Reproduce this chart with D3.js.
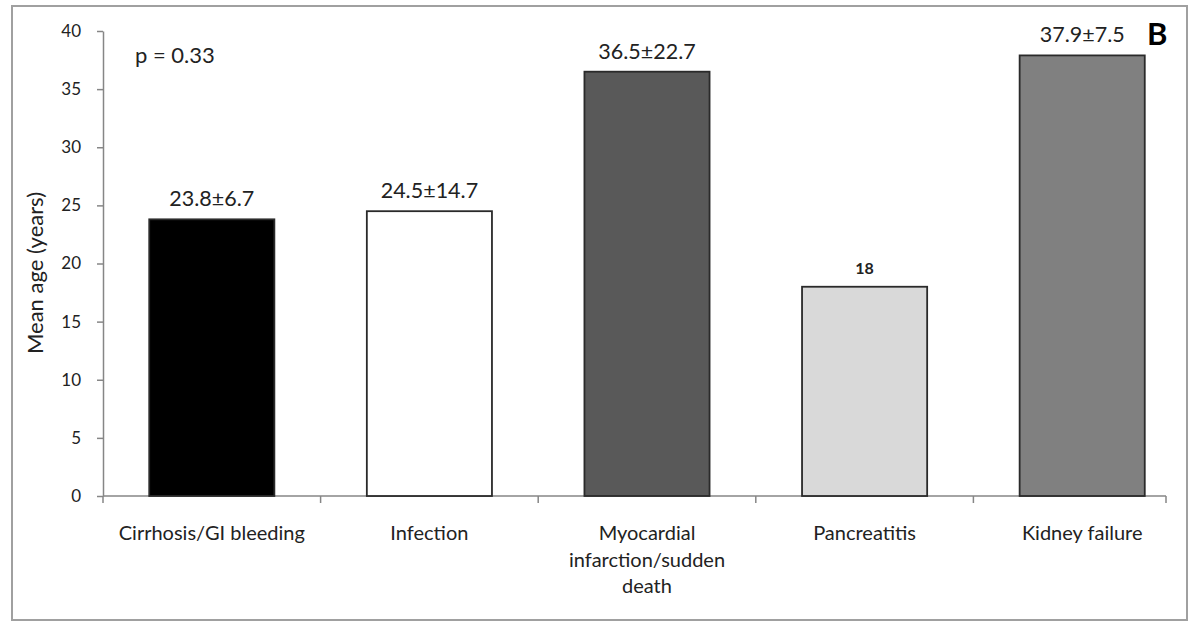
<!DOCTYPE html>
<html>
<head>
<meta charset="utf-8">
<script src="https://cdn.jsdelivr.net/npm/d3@7"></script>
<style>
  html, body { margin: 0; padding: 0; background: #fff; }
  svg { display: block; font-family: Lato, "Open Sans", sans-serif; }
</style>
</head>
<body>
<svg id="chart" width="1189" height="622"></svg>
<script>
// Causes of death and mean age at death
const categories = [
  ["Cirrhosis/GI bleeding"],
  ["Infection"],
  ["Myocardial", "infarction/sudden", "death"],
  ["Pancreatitis"],
  ["Kidney failure"]
];
const meanAge = [23.8, 24.5, 36.5, 18, 37.9];
const valueLabels = ["23.8±6.7", "24.5±14.7", "36.5±22.7", "18", "37.9±7.5"];
const barFills = ["#000000", "#ffffff", "#595959", "#d9d9d9", "#808080"];
const yTicks = [0, 5, 10, 15, 20, 25, 30, 35, 40];

const svg = d3.select("#chart");

// outer frame
svg.append("rect")
  .attr("x", 12).attr("y", 6).attr("width", 1175).attr("height", 614)
  .attr("fill", "none").attr("stroke", "#a0a0a0").attr("stroke-width", 2);

const plot = { left: 103, right: 1191, top: 31, bottom: 496 };

const x = d3.scaleBand()
  .domain(d3.range(categories.length))
  .range([plot.left, plot.right])
  .paddingInner(0.425)
  .paddingOuter(0.2125);

const y = d3.scaleLinear().domain([0, 40]).range([plot.bottom, plot.top]);

// y axis
const yAxis = svg.append("g")
  .attr("transform", `translate(${plot.left},0)`)
  .call(d3.axisLeft(y).tickValues(yTicks).tickSize(6).tickPadding(16).tickSizeOuter(0));
yAxis.select(".domain").attr("stroke", "#868686").attr("stroke-width", 1.5);
yAxis.selectAll(".tick line").attr("stroke", "#868686").attr("stroke-width", 1.5);
yAxis.selectAll(".tick text").attr("font-size", 17).attr("fill", "#222").attr("font-family", "Lato, sans-serif");

// x axis: baseline with ticks at category boundaries
const xEnd = 1166;
const step = x.step();
const boundaries = d3.range(categories.length).map(i => x(i) - x.paddingOuter() * step)
  .concat([xEnd]);
svg.append("line")
  .attr("x1", plot.left).attr("x2", xEnd)
  .attr("y1", y(0)).attr("y2", y(0))
  .attr("stroke", "#868686").attr("stroke-width", 1.5);
svg.selectAll(".xtick").data(boundaries).join("line")
  .attr("class", "xtick")
  .attr("x1", d => d).attr("x2", d => d)
  .attr("y1", y(0)).attr("y2", y(0) + 7)
  .attr("stroke", "#868686").attr("stroke-width", 1.5);

// bars
svg.selectAll(".bar").data(meanAge).join("rect")
  .attr("class", "bar")
  .attr("x", (d, i) => x(i))
  .attr("width", x.bandwidth())
  .attr("y", d => y(d))
  .attr("height", d => y(0) - y(d))
  .attr("fill", (d, i) => barFills[i])
  .attr("stroke", "#2a2a2a")
  .attr("stroke-width", 1.8);

// value labels
svg.selectAll(".vlabel").data(meanAge).join("text")
  .attr("class", "vlabel")
  .attr("x", (d, i) => x(i) + x.bandwidth() / 2)
  .attr("y", d => y(d) - 13)
  .attr("text-anchor", "middle")
  .attr("font-size", (d, i) => valueLabels[i].length < 3 ? 16 : 21.5)
  .attr("font-weight", (d, i) => valueLabels[i].length < 3 ? "bold" : "normal")
  .attr("fill", "#222")
  .text((d, i) => valueLabels[i]);

// category labels
const catG = svg.selectAll(".cat").data(categories).join("text")
  .attr("class", "cat")
  .attr("text-anchor", "middle")
  .attr("font-size", 20)
  .attr("fill", "#222");
catG.each(function (lines, i) {
  d3.select(this).selectAll("tspan").data(lines).join("tspan")
    .attr("x", x(i) + x.bandwidth() / 2)
    .attr("y", (l, j) => 540 + j * 26.5)
    .text(l => l);
});

// y axis title
svg.append("text")
  .attr("transform", "translate(43,273) rotate(-90)")
  .attr("text-anchor", "middle")
  .attr("font-size", 22)
  .attr("fill", "#222")
  .text("Mean age (years)");

// p-value annotation
svg.append("text")
  .attr("x", 135).attr("y", 63)
  .attr("font-size", 22).attr("fill", "#222")
  .text("p = 0.33");

// panel letter
svg.append("text")
  .attr("x", 1147).attr("y", 45)
  .attr("font-size", 31).attr("font-weight", "bold").attr("fill", "#000")
  .text("B");
</script>
</body>
</html>
